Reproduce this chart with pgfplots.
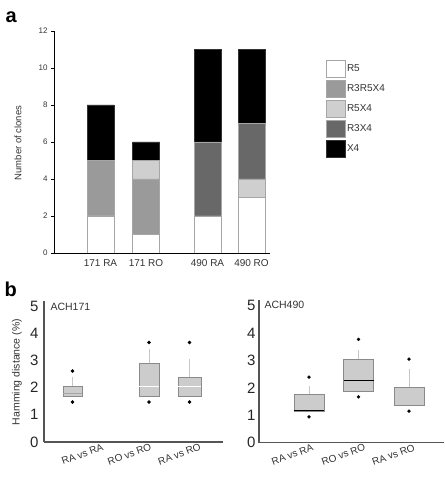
\documentclass[border=0pt]{standalone}
\usepackage{fontspec}
\setmainfont{Liberation Sans}
\usepackage{pgfplots}
\pgfplotsset{compat=1.18}
\usepgfplotslibrary{statistics}

\definecolor{cR5}{HTML}{FFFFFF}
\definecolor{cR3R5X4}{HTML}{9A9A9A}
\definecolor{cR5X4}{HTML}{CFCFCF}
\definecolor{cR3X4}{HTML}{686868}
\definecolor{cX4}{HTML}{000000}
\definecolor{boxfill}{HTML}{CCCCCC}
\definecolor{boxline}{HTML}{8A8A8A}
\definecolor{txt}{HTML}{333333}
\definecolor{axisb}{HTML}{555555}

\begin{document}
\begin{tikzpicture}[x=1pt,y=1pt]
\useasboundingbox (0,0) rectangle (444,486);

% ---------- panel a: stacked clone counts ----------
\node[anchor=base west,font=\fontsize{20}{20}\selectfont\bfseries] at (2,463) {a};
\node[rotate=90,font=\fontsize{9.5}{10}\selectfont,text=txt] at (18,343) {Number of clones};

\begin{axis}[
  at={(54pt,233pt)}, anchor=south west, scale only axis,
  width=216pt, height=222pt,
  xmin=0, xmax=216, ymin=0, ymax=12,
  ybar stacked, bar width=27,
  axis lines*=left,
  axis line style={black, line width=0.8pt},
  ytick={0,2,...,12},
  xtick={46.5,92,153.5,197.5},
  xticklabels={171 RA,171 RO,490 RA,490 RO},
  xtick style={draw=none},
  ytick style={black},
  tick align=outside, major tick length=3pt,
  /pgf/number format/assume math mode=true,
  yticklabel style={font=\fontsize{8}{8}\selectfont, text=txt},
  xticklabel style={font=\fontsize{10}{10}\selectfont, text=txt},
  legend style={at={(1.245,0.878)}, anchor=north west, draw=none, fill=none,
    font=\fontsize{10}{10}\selectfont, text=txt, row sep=2.6pt,
    nodes={inner sep=1.5pt}},
  legend cell align=left,
  legend image code/.code={\draw[#1] (0pt,-8.5pt) rectangle (19pt,8.5pt);},
]
\addplot[fill=cR5, draw=gray!70] coordinates {(46.5,2) (92,1) (153.5,2) (197.5,3)};
\addplot[fill=cR3R5X4, draw=gray!70] coordinates {(46.5,3) (92,3) (153.5,0) (197.5,0)};
\addplot[fill=cR5X4, draw=gray!70] coordinates {(46.5,0) (92,1) (153.5,0) (197.5,1)};
\addplot[fill=cR3X4, draw=gray!70] coordinates {(46.5,0) (92,0) (153.5,4) (197.5,3)};
\addplot[fill=cX4, draw=gray!40!black] coordinates {(46.5,3) (92,1) (153.5,5) (197.5,4)};
\legend{R5,R3R5X4,R5X4,R3X4,X4}
\end{axis}

% ---------- panel b: Hamming distances ----------
\node[anchor=base west,font=\fontsize{20}{20}\selectfont\bfseries] at (1,189) {b};
\node[rotate=90,font=\fontsize{10.5}{11}\selectfont,text=txt] at (17,114) {Hamming distance (\%)};
\node[anchor=west,font=\fontsize{10.5}{11}\selectfont,text=txt] at (47,179) {ACH171};
\node[anchor=west,font=\fontsize{10.5}{11}\selectfont,text=txt] at (261,181) {ACH490};

\pgfplotsset{
  hamming/.style={
    scale only axis,
    ymin=0, ymax=5.2,
    axis lines*=left,
    axis line style={axisb, line width=1.3pt},
    ytick={0,1,2,3,4,5},
    major tick length=0pt,
    /pgf/number format/assume math mode=true,
    yticklabel style={font=\fontsize{15}{15}\selectfont, text=black!85},
    xticklabel style={font=\fontsize{10}{10.5}\selectfont, text=txt, rotate=20, anchor=center, yshift=-13pt},
    xticklabels={RA vs RA,RO vs RO,RA vs RO},
    boxplot/draw direction=y,
    boxplot/whisker extend=0,
    boxplot/every whisker/.style={draw=gray!45, line width=0.8pt},
    boxplot/every box/.style={fill=boxfill, draw=boxline, line width=0.7pt},
  },
  bp/.style={mark=*, mark size=1.5pt, mark options={black, fill=black}},
}

\begin{axis}[hamming,
  at={(44pt,44pt)}, anchor=south west,
  width=179pt, height=141.4pt,
  xmin=44, xmax=223,
  xtick={78,125,175},
  yticklabel style={xshift=-2pt},
]
\addplot[bp, boxplot prepared={lower whisker=1.69, lower quartile=1.69, median=1.79,
  upper quartile=2.06, upper whisker=2.40, draw position=72.5, box extend=19},
  boxplot/every median/.style={draw=gray!70, line width=1pt}]
  coordinates {(0,2.61) (0,1.47)};
\addplot[bp, boxplot prepared={lower whisker=1.69, lower quartile=1.69, median=2.03,
  upper quartile=2.89, upper whisker=3.42, draw position=149, box extend=20},
  boxplot/every median/.style={draw=white, line width=1pt}]
  coordinates {(0,3.66) (0,1.47)};
\addplot[bp, boxplot prepared={lower whisker=1.69, lower quartile=1.69, median=2.03,
  upper quartile=2.36, upper whisker=3.05, draw position=189.5, box extend=23},
  boxplot/every median/.style={draw=white, line width=1pt}]
  coordinates {(0,3.66) (0,1.47)};
\end{axis}

\begin{axis}[hamming,
  at={(259pt,43.5pt)}, anchor=south west,
  width=185pt, height=142.2pt,
  xmin=259, xmax=444,
  xtick={288,339,389},
]
\addplot[bp, boxplot prepared={lower whisker=1.15, lower quartile=1.15, median=1.18,
  upper quartile=1.75, upper whisker=2.07, draw position=309, box extend=30},
  boxplot/every median/.style={draw=black, line width=1pt}]
  coordinates {(0,2.39) (0,0.94)};
\addplot[bp, boxplot prepared={lower whisker=1.88, lower quartile=1.88, median=2.25,
  upper quartile=3.05, upper whisker=3.38, draw position=358.5, box extend=30},
  boxplot/every median/.style={draw=black, line width=1pt}]
  coordinates {(0,3.77) (0,1.67)};
\addplot[bp, boxplot prepared={lower whisker=1.35, lower quartile=1.35, median=1.37,
  upper quartile=2.02, upper whisker=2.68, draw position=409, box extend=30},
  boxplot/every median/.style={draw=boxline, line width=0.7pt}]
  coordinates {(0,3.05) (0,1.15)};
\end{axis}
\end{tikzpicture}
\end{document}
